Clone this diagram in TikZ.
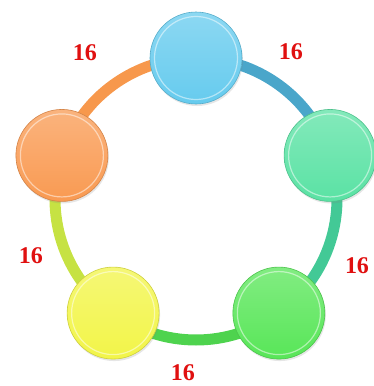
\documentclass[tikz,border=0pt]{standalone}
\usepackage{fontspec}
\newfontfamily\labfont{Liberation Serif}
\usetikzlibrary{shadows}
\definecolor{bcyan}{HTML}{66CBEE}
\definecolor{bteal}{HTML}{5AE2A4}
\definecolor{bgreen}{HTML}{58E658}
\definecolor{byellow}{HTML}{F2F548}
\definecolor{borange}{HTML}{F99A52}
\definecolor{rcyan}{HTML}{4AA6CA}
\definecolor{rteal}{HTML}{43C996}
\definecolor{rgreen}{HTML}{4ED34E}
\definecolor{ryellow}{HTML}{C6E243}
\definecolor{rorange}{HTML}{F7984C}
\definecolor{labred}{HTML}{E01010}
\tikzset{
  ball/.style   = {circle, minimum size=92pt, inner sep=0pt,
                   top color=#1!75!white, bottom color=#1,
                   draw=#1!85!black, line width=0.6pt,
                   drop shadow={opacity=0.2, shadow xshift=1pt, shadow yshift=-2pt},
                   path picture={\draw[white, opacity=0.5, line width=1.2pt]
                     (path picture bounding box.center) circle (41.5pt);}},
  ring/.style   = {line width=11pt, line cap=butt, draw=#1},
  numlab/.style = {font=\labfont\bfseries\fontsize{24}{26}\selectfont,
                   text=labred, inner sep=0pt},
}
\begin{document}
\begin{tikzpicture}[x=1pt, y=1pt]
  \useasboundingbox (-196,-187) rectangle (178,199);
  % pentagon of balls on a ring of radius 141
  \coordinate (cT)  at (90:141);
  \coordinate (cR)  at (18:141);
  \coordinate (cBR) at (-54:141);
  \coordinate (cBL) at (-126:141);
  \coordinate (cL)  at (162:141);
  \draw[ring=rorange] (cL)  arc[start angle=162,  end angle=90,   radius=141];
  \draw[ring=rcyan]   (cT)  arc[start angle=90,   end angle=18,   radius=141];
  \draw[ring=rteal]   (cR)  arc[start angle=18,   end angle=-54,  radius=141];
  \draw[ring=rgreen]  (cBR) arc[start angle=-54,  end angle=-126, radius=141];
  \draw[ring=ryellow] (cBL) arc[start angle=-126, end angle=-198, radius=141];
  \node[ball=bcyan]   (ballT)  at (cT)  {};
  \node[ball=bteal]   (ballR)  at (cR)  {};
  \node[ball=bgreen]  (ballBR) at (cBR) {};
  \node[ball=byellow] (ballBL) at (cBL) {};
  \node[ball=borange] (ballL)  at (cL)  {};
  % weights
  \node[numlab] (labTL) at (-111,146) {16};
  \node[numlab] (labTR) at (95,147)   {16};
  \node[numlab] (labR)  at (161,-67)  {16};
  \node[numlab] (labL)  at (-165,-57) {16};
  \node[numlab] (labB)  at (-13,-174) {16};
\end{tikzpicture}
\end{document}
